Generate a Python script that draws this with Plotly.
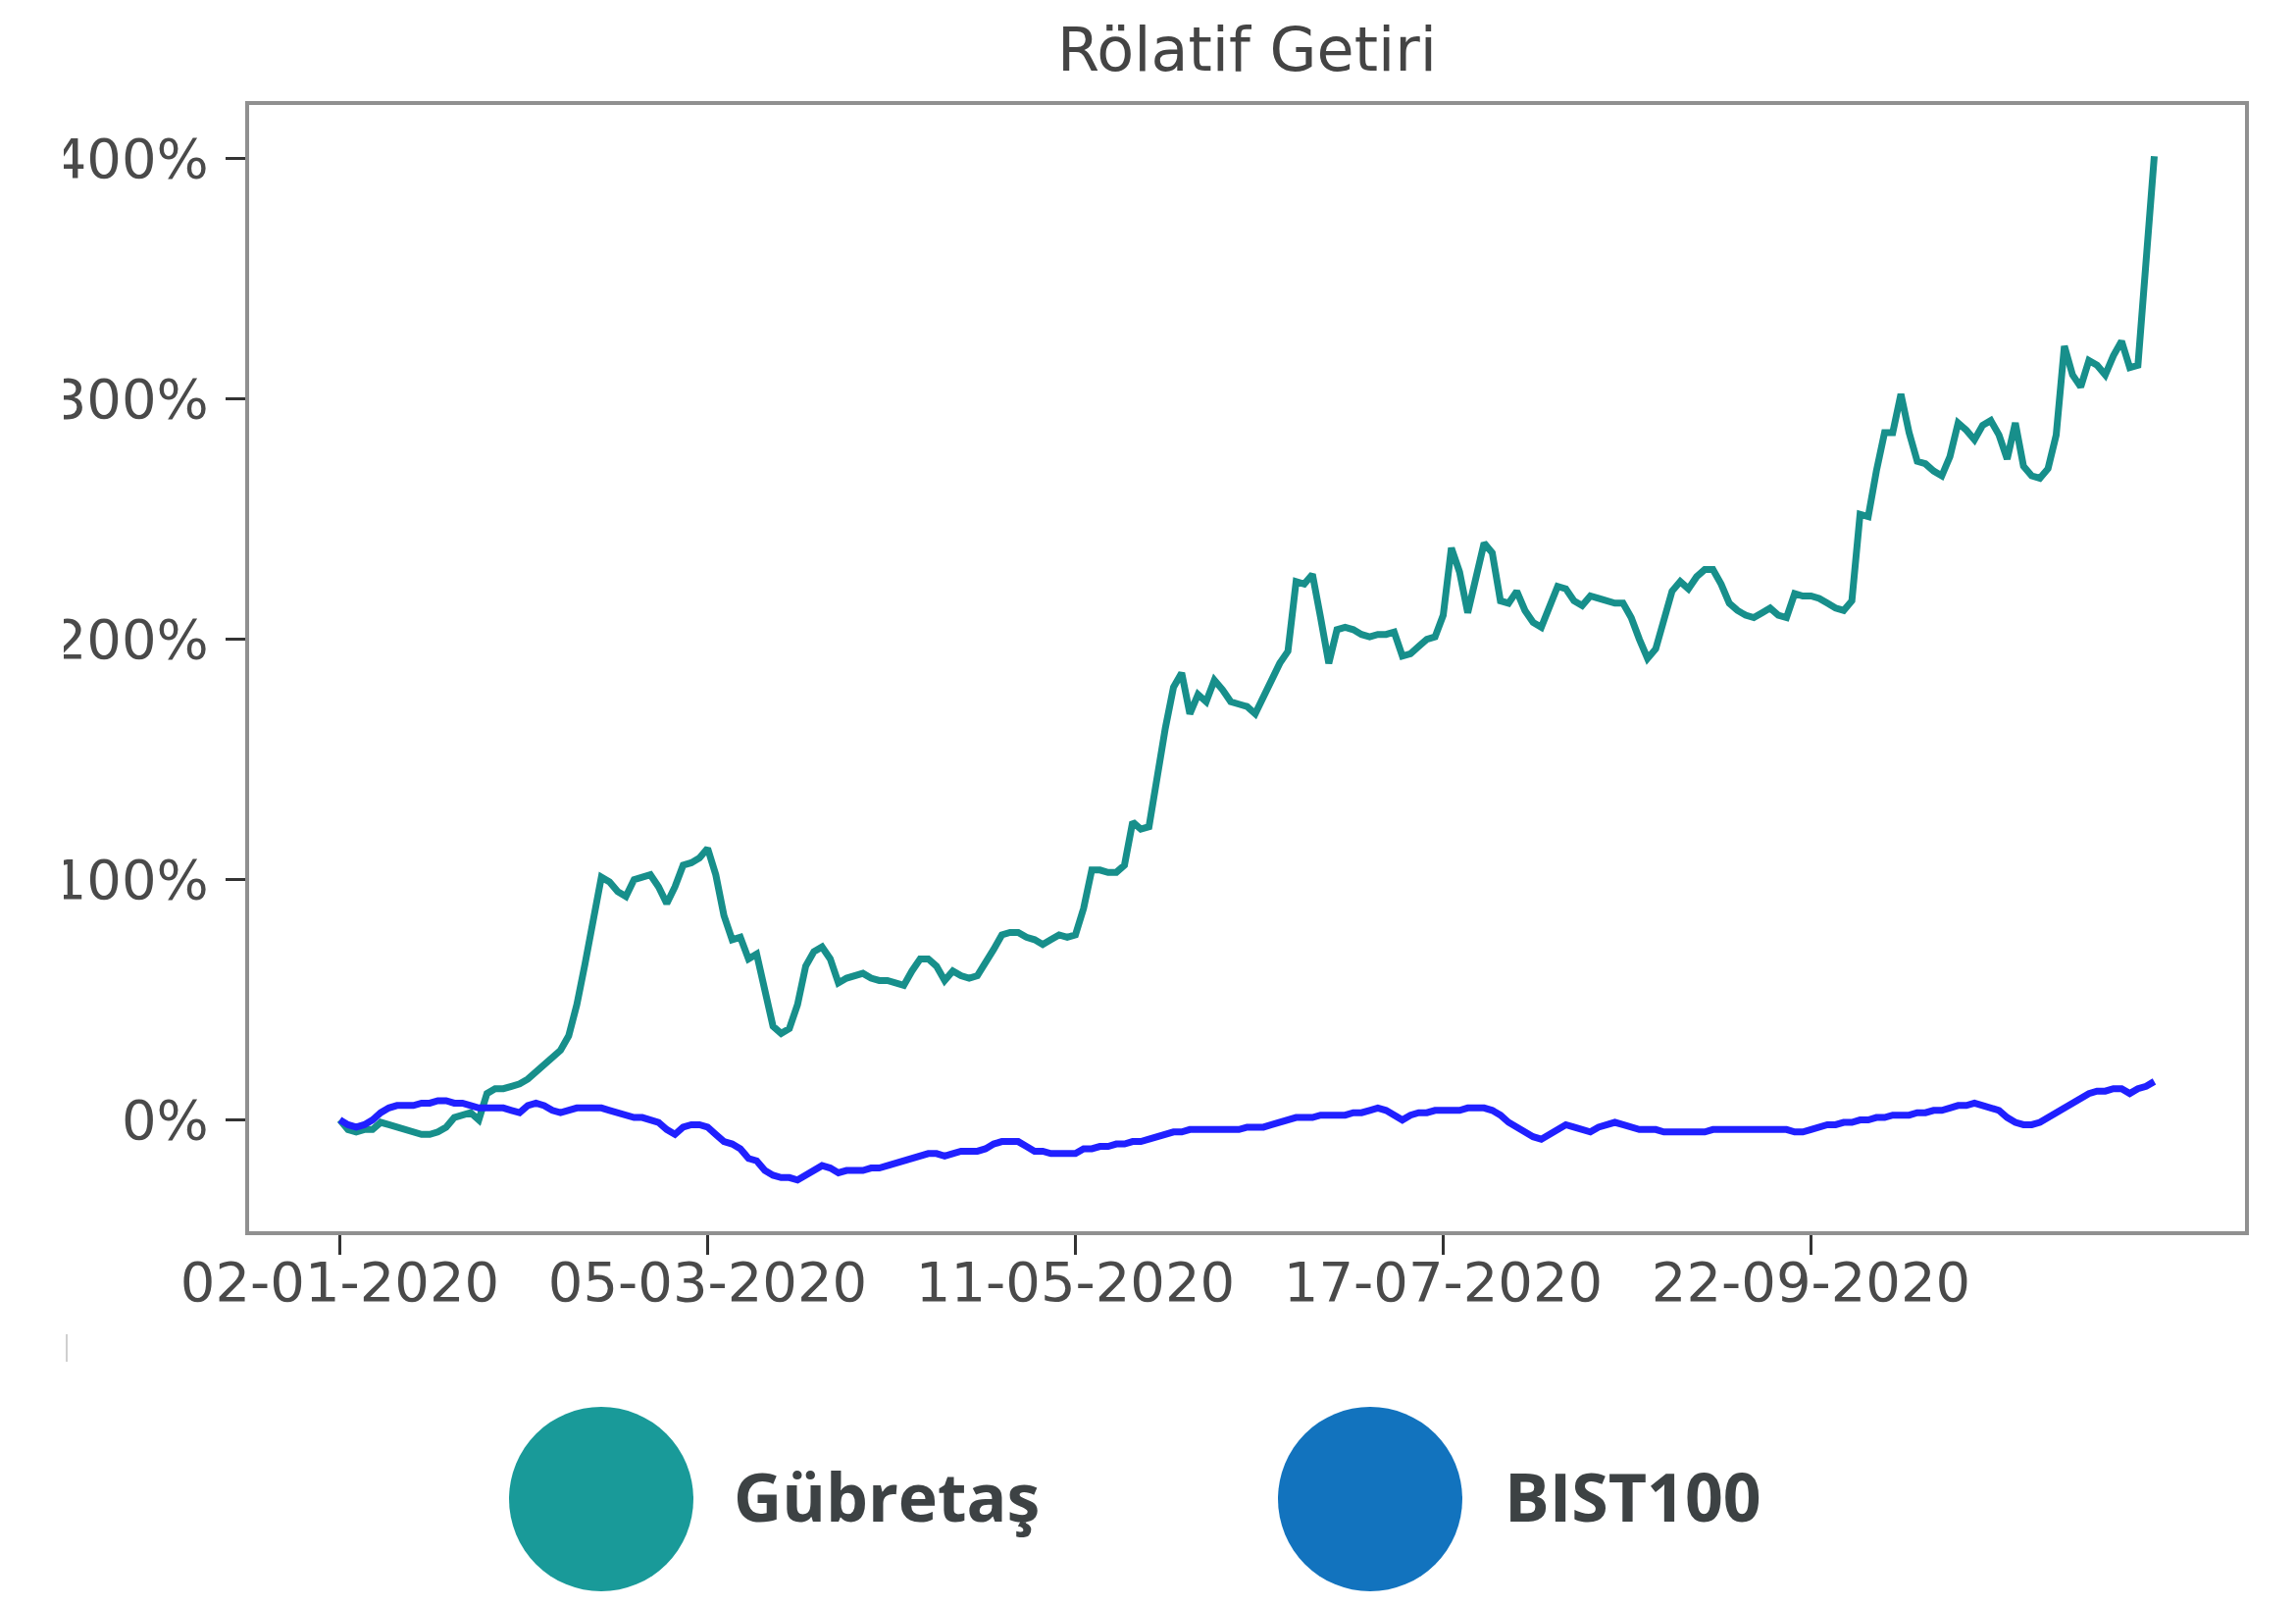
import plotly.graph_objects as go

# ---- data (percent relative return, one value per trading day) ----
gubretas = [
    0, -4, -5, -4, -4, -1, -2, -3, -4, -5, -6, -6, -5, -3, 1, 2, 3, 0, 11, 13,
    13, 14, 15, 17, 20, 23, 26, 29, 35, 48, 65, 85, 101, 99, 95, 93, 100, 101, 102, 97,
    90, 97, 106, 107, 109, 113, 102, 85, 75, 76, 67, 69, 55, 39, 36, 38, 48, 64, 70, 72,
    67, 57, 59, 60, 61, 59, 58, 58, 57, 56, 62, 67, 67, 64, 58, 62, 60, 59, 60, 65,
    71, 77, 78, 78, 76, 75, 73, 75, 77, 76, 77, 88, 104, 104, 103, 103, 106, 124, 121, 122,
    143, 163, 180, 186, 169, 177, 174, 183, 179, 174, 173, 172, 169, 176, 183, 190, 195, 224, 223, 227,
    209, 190, 204, 205, 204, 202, 201, 202, 202, 203, 193, 194, 197, 200, 201, 210, 238, 228, 211, 226,
    240, 236, 216, 215, 220, 212, 207, 205, 213, 222, 221, 216, 214, 218, 217, 216, 215, 215, 209, 200,
    192, 196, 208, 220, 224, 221, 226, 229, 229, 223, 215, 212, 210, 209, 211, 213, 210, 209, 219, 218,
    218, 217, 215, 213, 212, 216, 252, 251, 270, 286, 286, 302, 286, 274, 273, 270, 268, 276, 290, 287,
    283, 289, 291, 285, 275, 290, 272, 268, 267, 271, 285, 322, 310, 305, 316, 314, 310, 318, 324, 313,
    314, 360, 401,
]
bist100 = [
    0, -2, -3, -2, 0, 3, 5, 6, 6, 6, 7, 7, 8, 8, 7, 7, 6, 5, 5, 5,
    5, 4, 3, 6, 7, 6, 4, 3, 4, 5, 5, 5, 5, 4, 3, 2, 1, 1, 0, -1,
    -4, -6, -3, -2, -2, -3, -6, -9, -10, -12, -16, -17, -21, -23, -24, -24, -25, -23, -21, -19,
    -20, -22, -21, -21, -21, -20, -20, -19, -18, -17, -16, -15, -14, -14, -15, -14, -13, -13, -13, -12,
    -10, -9, -9, -9, -11, -13, -13, -14, -14, -14, -14, -12, -12, -11, -11, -10, -10, -9, -9, -8,
    -7, -6, -5, -5, -4, -4, -4, -4, -4, -4, -4, -3, -3, -3, -2, -1, 0, 1, 1, 1,
    2, 2, 2, 2, 3, 3, 4, 5, 4, 2, 0, 2, 3, 3, 4, 4, 4, 4, 5, 5,
    5, 4, 2, -1, -3, -5, -7, -8, -6, -4, -2, -3, -4, -5, -3, -2, -1, -2, -3, -4,
    -4, -4, -5, -5, -5, -5, -5, -5, -4, -4, -4, -4, -4, -4, -4, -4, -4, -4, -5, -5,
    -4, -3, -2, -2, -1, -1, 0, 0, 1, 1, 2, 2, 2, 3, 3, 4, 4, 5, 6, 6,
    7, 6, 5, 4, 1, -1, -2, -2, -1, 1, 3, 5, 7, 9, 11, 12, 12, 13, 13, 11,
    13, 14, 16,
]
day_index = list(range(len(gubretas)))
tick_index = [0, 45, 90, 135, 180]
tick_labels = ["02-01-2020", "05-03-2020", "11-05-2020", "17-07-2020", "22-09-2020"]
y_ticks = [0, 100, 200, 300, 400]
y_tick_labels = ["0%", "100%", "200%", "300%", "400%"]
series_names = ["Gübretaş", "BIST100"]
legend_colors = ["#199a99", "#1273be"]
line_colors = ["#178f8b", "#2020ff"]
chart_title = "Rölatif Getiri"

W, H = 2341, 1637
L, R, T, B = 246, 2281, 99, 1247
pw, ph = R - L, B - T

fig = go.Figure()
fig.add_trace(go.Scatter(x=day_index, y=gubretas, mode="lines", name=series_names[0],
                         line=dict(color=line_colors[0], width=7), showlegend=False))
fig.add_trace(go.Scatter(x=day_index, y=bist100, mode="lines", name=series_names[1],
                         line=dict(color=line_colors[1], width=7), showlegend=False))

n = len(gubretas) - 1
ymin, ymax = min(min(gubretas), min(bist100)), max(max(gubretas), max(bist100))
xpad = 0.05 * n
ypad = 0.05 * (ymax - ymin)

axis_font = dict(family="DejaVu Sans", size=56, color="#4a4a4a")
fig.update_xaxes(range=[-xpad, n + xpad], tickmode="array", tickvals=tick_index, ticktext=tick_labels,
                 showgrid=False, zeroline=False, showline=True, mirror=True,
                 linecolor="#909090", linewidth=4, ticks="outside", ticklen=20,
                 tickwidth=3, tickcolor="#333333", tickfont=axis_font, ticklabelstandoff=-20)
fig.update_yaxes(range=[ymin - ypad, ymax + ypad], tickmode="array", tickvals=y_ticks,
                 ticktext=y_tick_labels,
                 showgrid=False, zeroline=False, showline=True, mirror=True,
                 linecolor="#909090", linewidth=4, ticks="outside", ticklen=20,
                 tickwidth=3, tickcolor="#333333", tickfont=axis_font, ticklabelstandoff=6)

def px_x(p):
    return (p - L) / pw

def px_y(p):
    return (B - p) / ph

shapes = []
annotations = []
legend_cx = [605, 1389]
legend_tx = [738, 1524]
cy = 1520
for i in range(2):
    shapes.append(dict(type="circle", xref="paper", yref="paper",
                       xsizemode="pixel", ysizemode="pixel",
                       xanchor=px_x(legend_cx[i]), yanchor=px_y(cy),
                       x0=-94, x1=94, y0=-94, y1=94,
                       fillcolor=legend_colors[i], line=dict(width=0)))
    annotations.append(dict(xref="paper", yref="paper", x=px_x(legend_tx[i]), y=px_y(cy - 4),
                            xanchor="left", yanchor="middle", showarrow=False,
                            text="<b>%s</b>" % series_names[i],
                            font=dict(family="Open Sans", size=68, color="#3d4244")))
# chart title
annotations.append(dict(xref="paper", yref="paper", x=0.5, y=px_y(42),
                        xanchor="center", yanchor="middle", showarrow=False,
                        text=chart_title,
                        font=dict(family="DejaVu Sans", size=62, color="#444444")))
# white crop band on the far left (reference image is cut there)
shapes.append(dict(type="rect", xref="paper", yref="paper", layer="above",
                   x0=px_x(0), x1=px_x(57), y0=px_y(1637), y1=px_y(0),
                   fillcolor="white", line=dict(width=0)))
shapes.append(dict(type="line", xref="paper", yref="paper", layer="above",
                   x0=px_x(60), x1=px_x(60), y0=px_y(1352), y1=px_y(1380),
                   line=dict(color="#cfcfcf", width=2)))

fig.update_layout(
    width=W, height=H,
    margin=dict(l=L, r=W - R, t=T, b=H - B, autoexpand=False),
    paper_bgcolor="white", plot_bgcolor="white",
    shapes=shapes, annotations=annotations, showlegend=False,
)

fig.write_html("out.html")
